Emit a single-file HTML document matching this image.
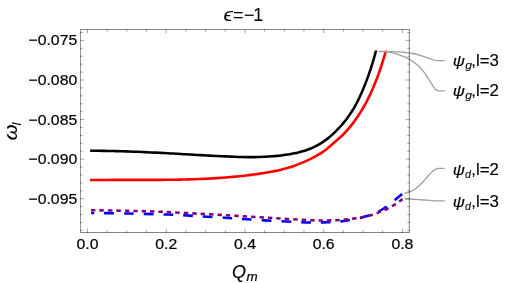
<!DOCTYPE html>
<html><head><meta charset="utf-8"><title>plot</title>
<style>
html,body{margin:0;padding:0;background:#fff;}
body{width:527px;height:283px;overflow:hidden;position:relative;font-family:"Liberation Sans",sans-serif;}
</style></head><body>
<svg width="527" height="283" viewBox="0 0 527 283" style="position:absolute;left:0;top:0">
<rect width="527" height="283" fill="#fff"/>
<defs><clipPath id="cb"><rect x="0" y="50.4" width="527" height="240"/></clipPath><clipPath id="cr"><rect x="0" y="51.0" width="527" height="240"/></clipPath><clipPath id="cp"><rect x="0" y="50.0" width="527" height="1.0"/></clipPath></defs>
<path d="M90.10 150.80 C90.83 150.80 93.00 150.80 94.45 150.80 C95.90 150.81 97.35 150.82 98.80 150.83 C100.25 150.84 101.70 150.85 103.15 150.87 C104.60 150.89 106.05 150.91 107.50 150.93 C108.95 150.96 110.40 150.98 111.85 151.02 C113.30 151.05 114.74 151.08 116.19 151.11 C117.64 151.15 119.09 151.19 120.54 151.23 C121.99 151.27 123.44 151.32 124.89 151.36 C126.34 151.41 127.79 151.46 129.23 151.51 C130.68 151.56 132.13 151.61 133.58 151.67 C135.03 151.73 136.48 151.78 137.93 151.84 C139.37 151.90 140.82 151.96 142.27 152.03 C143.72 152.09 145.17 152.16 146.62 152.22 C148.06 152.29 149.51 152.36 150.96 152.43 C152.41 152.50 153.86 152.57 155.31 152.64 C156.75 152.71 158.20 152.79 159.65 152.86 C161.10 152.94 162.55 153.01 163.99 153.09 C165.44 153.16 166.89 153.24 168.34 153.32 C169.79 153.40 171.23 153.48 172.68 153.56 C174.13 153.64 175.58 153.72 177.03 153.80 C178.47 153.88 179.92 153.96 181.37 154.04 C182.82 154.12 184.26 154.20 185.71 154.29 C187.16 154.37 188.61 154.45 190.06 154.53 C191.50 154.61 192.95 154.69 194.40 154.77 C195.85 154.86 197.29 154.94 198.74 155.02 C200.19 155.10 201.64 155.18 203.09 155.26 C204.53 155.34 205.98 155.41 207.43 155.49 C208.88 155.57 210.32 155.65 211.77 155.72 C213.22 155.80 214.67 155.87 216.11 155.95 C217.56 156.02 219.01 156.10 220.46 156.17 C221.91 156.24 223.35 156.31 224.80 156.38 C226.25 156.45 227.70 156.51 229.14 156.58 C230.59 156.64 232.04 156.71 233.49 156.76 C234.94 156.82 236.38 156.87 237.83 156.92 C239.28 156.96 240.73 157.01 242.17 157.04 C243.62 157.07 245.07 157.10 246.52 157.12 C247.97 157.14 249.41 157.15 250.86 157.14 C252.31 157.14 253.76 157.13 255.21 157.11 C256.66 157.08 258.10 157.05 259.55 157.00 C261.00 156.96 262.45 156.89 263.90 156.82 C265.35 156.75 266.79 156.66 268.24 156.57 C269.69 156.47 271.14 156.37 272.59 156.25 C274.04 156.13 275.49 156.00 276.93 155.86 C278.38 155.72 279.83 155.57 281.27 155.40 C282.72 155.23 284.16 155.05 285.60 154.84 C287.04 154.64 288.48 154.42 289.91 154.17 C291.34 153.93 292.77 153.66 294.19 153.37 C295.61 153.08 297.03 152.77 298.44 152.42 C299.85 152.08 301.25 151.71 302.64 151.30 C304.04 150.90 305.42 150.47 306.79 149.99 C308.16 149.52 309.51 149.01 310.85 148.46 C312.18 147.91 313.50 147.31 314.80 146.68 C316.09 146.04 317.37 145.36 318.62 144.64 C319.88 143.92 321.11 143.16 322.32 142.36 C323.53 141.57 324.72 140.73 325.88 139.87 C327.05 139.01 328.19 138.12 329.31 137.19 C330.43 136.27 331.53 135.32 332.61 134.35 C333.69 133.38 334.74 132.38 335.78 131.36 C336.82 130.34 337.83 129.30 338.83 128.24 C339.82 127.18 340.80 126.10 341.75 125.00 C342.70 123.90 343.63 122.79 344.54 121.65 C345.45 120.52 346.34 119.37 347.20 118.20 C348.07 117.03 348.91 115.85 349.73 114.65 C350.55 113.45 351.34 112.24 352.11 111.01 C352.88 109.79 353.63 108.55 354.36 107.30 C355.08 106.05 355.78 104.79 356.46 103.51 C357.14 102.24 357.79 100.96 358.42 99.66 C359.06 98.37 359.67 97.07 360.27 95.76 C360.87 94.45 361.45 93.13 362.03 91.80 C362.60 90.47 363.16 89.14 363.71 87.79 C364.26 86.45 364.80 85.10 365.33 83.75 C365.86 82.40 366.37 81.04 366.88 79.67 C367.39 78.31 367.89 76.94 368.37 75.56 C368.86 74.19 369.34 72.81 369.81 71.43 C370.28 70.05 370.74 68.67 371.18 67.28 C371.63 65.90 372.07 64.51 372.49 63.12 C372.92 61.73 373.33 60.34 373.73 58.95 C374.14 57.56 374.53 56.17 374.91 54.79 C375.28 53.40 375.73 51.65 376.00 50.62 C376.27 49.60 376.44 48.96 376.53 48.62" fill="none" stroke="#000" stroke-width="2.55" clip-path="url(#cb)"/>
<path d="M90.11 180.10 C90.86 180.09 93.13 180.06 94.64 180.04 C96.15 180.02 97.66 180.01 99.17 179.99 C100.68 179.98 102.19 179.97 103.70 179.96 C105.22 179.95 106.73 179.94 108.24 179.94 C109.75 179.93 111.26 179.93 112.78 179.92 C114.29 179.92 115.80 179.92 117.31 179.92 C118.83 179.91 120.34 179.91 121.85 179.91 C123.36 179.91 124.88 179.91 126.39 179.92 C127.90 179.92 129.42 179.92 130.93 179.92 C132.45 179.92 133.96 179.92 135.47 179.92 C136.99 179.92 138.50 179.92 140.01 179.92 C141.53 179.92 143.04 179.92 144.56 179.92 C146.07 179.92 147.58 179.92 149.10 179.92 C150.61 179.91 152.12 179.91 153.64 179.91 C155.15 179.90 156.67 179.89 158.18 179.88 C159.69 179.88 161.21 179.87 162.72 179.85 C164.24 179.84 165.75 179.83 167.26 179.81 C168.78 179.80 170.29 179.78 171.80 179.76 C173.32 179.74 174.83 179.71 176.34 179.69 C177.86 179.66 179.37 179.63 180.88 179.60 C182.39 179.57 183.91 179.53 185.42 179.50 C186.93 179.46 188.44 179.42 189.96 179.37 C191.47 179.32 192.98 179.28 194.49 179.22 C196.00 179.17 197.51 179.11 199.03 179.05 C200.54 178.99 202.05 178.93 203.56 178.86 C205.07 178.79 206.58 178.71 208.09 178.64 C209.60 178.56 211.11 178.47 212.62 178.38 C214.13 178.30 215.64 178.20 217.15 178.10 C218.65 178.01 220.16 177.90 221.67 177.79 C223.18 177.68 224.69 177.57 226.19 177.45 C227.70 177.32 229.21 177.20 230.72 177.06 C232.22 176.93 233.73 176.79 235.23 176.65 C236.74 176.50 238.24 176.35 239.75 176.19 C241.25 176.03 242.76 175.86 244.26 175.69 C245.77 175.52 247.27 175.34 248.77 175.15 C250.27 174.96 251.78 174.77 253.28 174.57 C254.78 174.37 256.28 174.15 257.77 173.94 C259.27 173.72 260.77 173.49 262.26 173.25 C263.76 173.02 265.25 172.77 266.74 172.51 C268.23 172.26 269.71 171.99 271.20 171.72 C272.68 171.44 274.16 171.16 275.64 170.86 C277.12 170.56 278.60 170.26 280.07 169.92 C281.54 169.58 283.01 169.23 284.47 168.85 C285.93 168.46 287.39 168.04 288.85 167.60 C290.30 167.16 291.75 166.69 293.19 166.19 C294.63 165.69 296.07 165.17 297.49 164.62 C298.91 164.08 300.33 163.51 301.73 162.91 C303.14 162.32 304.53 161.71 305.91 161.08 C307.29 160.45 308.66 159.80 310.01 159.13 C311.36 158.47 312.70 157.79 314.02 157.08 C315.34 156.38 316.65 155.68 317.93 154.92 C319.22 154.17 320.49 153.40 321.74 152.56 C322.98 151.73 324.21 150.84 325.42 149.92 C326.63 149.01 327.82 148.03 329.00 147.05 C330.18 146.08 331.34 145.06 332.50 144.07 C333.66 143.07 334.81 142.07 335.95 141.07 C337.09 140.07 338.23 139.09 339.34 138.08 C340.46 137.06 341.56 136.04 342.63 134.99 C343.70 133.94 344.75 132.86 345.78 131.76 C346.80 130.66 347.81 129.54 348.79 128.40 C349.77 127.25 350.73 126.09 351.67 124.91 C352.60 123.73 353.52 122.52 354.42 121.31 C355.31 120.09 356.19 118.85 357.04 117.60 C357.90 116.35 358.74 115.09 359.55 113.81 C360.37 112.53 361.16 111.24 361.94 109.93 C362.72 108.63 363.48 107.31 364.22 105.99 C364.96 104.67 365.69 103.33 366.39 101.99 C367.10 100.65 367.79 99.30 368.46 97.94 C369.13 96.58 369.78 95.22 370.42 93.85 C371.06 92.48 371.69 91.10 372.30 89.71 C372.91 88.33 373.50 86.94 374.08 85.54 C374.66 84.15 375.23 82.74 375.78 81.34 C376.34 79.93 376.88 78.52 377.41 77.10 C377.93 75.68 378.45 74.26 378.96 72.83 C379.46 71.41 379.95 69.98 380.44 68.54 C380.92 67.11 381.39 65.67 381.86 64.23 C382.32 62.79 382.77 61.35 383.22 59.90 C383.66 58.46 384.10 57.01 384.53 55.56 C384.95 54.10 385.48 52.26 385.79 51.20 C386.09 50.14 386.27 49.53 386.37 49.20" fill="none" stroke="#ffa0a0" stroke-width="2.2" clip-path="url(#cp)"/>
<path d="M90.11 180.10 C90.86 180.09 93.13 180.06 94.64 180.04 C96.15 180.02 97.66 180.01 99.17 179.99 C100.68 179.98 102.19 179.97 103.70 179.96 C105.22 179.95 106.73 179.94 108.24 179.94 C109.75 179.93 111.26 179.93 112.78 179.92 C114.29 179.92 115.80 179.92 117.31 179.92 C118.83 179.91 120.34 179.91 121.85 179.91 C123.36 179.91 124.88 179.91 126.39 179.92 C127.90 179.92 129.42 179.92 130.93 179.92 C132.45 179.92 133.96 179.92 135.47 179.92 C136.99 179.92 138.50 179.92 140.01 179.92 C141.53 179.92 143.04 179.92 144.56 179.92 C146.07 179.92 147.58 179.92 149.10 179.92 C150.61 179.91 152.12 179.91 153.64 179.91 C155.15 179.90 156.67 179.89 158.18 179.88 C159.69 179.88 161.21 179.87 162.72 179.85 C164.24 179.84 165.75 179.83 167.26 179.81 C168.78 179.80 170.29 179.78 171.80 179.76 C173.32 179.74 174.83 179.71 176.34 179.69 C177.86 179.66 179.37 179.63 180.88 179.60 C182.39 179.57 183.91 179.53 185.42 179.50 C186.93 179.46 188.44 179.42 189.96 179.37 C191.47 179.32 192.98 179.28 194.49 179.22 C196.00 179.17 197.51 179.11 199.03 179.05 C200.54 178.99 202.05 178.93 203.56 178.86 C205.07 178.79 206.58 178.71 208.09 178.64 C209.60 178.56 211.11 178.47 212.62 178.38 C214.13 178.30 215.64 178.20 217.15 178.10 C218.65 178.01 220.16 177.90 221.67 177.79 C223.18 177.68 224.69 177.57 226.19 177.45 C227.70 177.32 229.21 177.20 230.72 177.06 C232.22 176.93 233.73 176.79 235.23 176.65 C236.74 176.50 238.24 176.35 239.75 176.19 C241.25 176.03 242.76 175.86 244.26 175.69 C245.77 175.52 247.27 175.34 248.77 175.15 C250.27 174.96 251.78 174.77 253.28 174.57 C254.78 174.37 256.28 174.15 257.77 173.94 C259.27 173.72 260.77 173.49 262.26 173.25 C263.76 173.02 265.25 172.77 266.74 172.51 C268.23 172.26 269.71 171.99 271.20 171.72 C272.68 171.44 274.16 171.16 275.64 170.86 C277.12 170.56 278.60 170.26 280.07 169.92 C281.54 169.58 283.01 169.23 284.47 168.85 C285.93 168.46 287.39 168.04 288.85 167.60 C290.30 167.16 291.75 166.69 293.19 166.19 C294.63 165.69 296.07 165.17 297.49 164.62 C298.91 164.08 300.33 163.51 301.73 162.91 C303.14 162.32 304.53 161.71 305.91 161.08 C307.29 160.45 308.66 159.80 310.01 159.13 C311.36 158.47 312.70 157.79 314.02 157.08 C315.34 156.38 316.65 155.68 317.93 154.92 C319.22 154.17 320.49 153.40 321.74 152.56 C322.98 151.73 324.21 150.84 325.42 149.92 C326.63 149.01 327.82 148.03 329.00 147.05 C330.18 146.08 331.34 145.06 332.50 144.07 C333.66 143.07 334.81 142.07 335.95 141.07 C337.09 140.07 338.23 139.09 339.34 138.08 C340.46 137.06 341.56 136.04 342.63 134.99 C343.70 133.94 344.75 132.86 345.78 131.76 C346.80 130.66 347.81 129.54 348.79 128.40 C349.77 127.25 350.73 126.09 351.67 124.91 C352.60 123.73 353.52 122.52 354.42 121.31 C355.31 120.09 356.19 118.85 357.04 117.60 C357.90 116.35 358.74 115.09 359.55 113.81 C360.37 112.53 361.16 111.24 361.94 109.93 C362.72 108.63 363.48 107.31 364.22 105.99 C364.96 104.67 365.69 103.33 366.39 101.99 C367.10 100.65 367.79 99.30 368.46 97.94 C369.13 96.58 369.78 95.22 370.42 93.85 C371.06 92.48 371.69 91.10 372.30 89.71 C372.91 88.33 373.50 86.94 374.08 85.54 C374.66 84.15 375.23 82.74 375.78 81.34 C376.34 79.93 376.88 78.52 377.41 77.10 C377.93 75.68 378.45 74.26 378.96 72.83 C379.46 71.41 379.95 69.98 380.44 68.54 C380.92 67.11 381.39 65.67 381.86 64.23 C382.32 62.79 382.77 61.35 383.22 59.90 C383.66 58.46 384.10 57.01 384.53 55.56 C384.95 54.10 385.48 52.26 385.79 51.20 C386.09 50.14 386.27 49.53 386.37 49.20" fill="none" stroke="#f00" stroke-width="2.6" clip-path="url(#cr)"/>
<path d="M91.10 212.90 C97.58 213.02 117.13 213.32 130.00 213.60 C142.87 213.88 156.63 214.15 168.30 214.60 C179.97 215.05 190.13 215.75 200.00 216.30 C209.87 216.85 219.73 217.40 227.50 217.90 C235.27 218.40 237.85 218.75 246.60 219.30 C255.35 219.85 270.13 220.67 280.00 221.20 C289.87 221.73 298.10 222.32 305.80 222.50 C313.50 222.68 319.78 222.57 326.20 222.30 C332.62 222.03 337.82 221.87 344.30 220.90 C350.78 219.93 358.78 218.40 365.10 216.50 C371.42 214.60 377.13 212.33 382.20 209.50 C387.27 206.67 392.10 202.17 395.50 199.50 C398.90 196.83 401.42 194.50 402.60 193.50" fill="none" stroke="#00f" stroke-width="2.55" stroke-dasharray="9.7 10.0" stroke-dashoffset="6.5"/>
<path d="M91.10 210.20 C97.58 210.32 118.27 210.63 130.00 210.90 C141.73 211.17 149.83 211.32 161.50 211.80 C173.17 212.28 187.33 213.12 200.00 213.80 C212.67 214.48 225.00 215.17 237.50 215.90 C250.00 216.63 262.58 217.47 275.00 218.20 C287.42 218.93 302.67 219.93 312.00 220.30 C321.33 220.67 324.67 220.62 331.00 220.40 C337.33 220.18 343.68 219.77 350.00 219.00 C356.32 218.23 362.58 217.55 368.90 215.80 C375.22 214.05 382.28 211.27 387.90 208.50 C393.52 205.73 400.15 200.75 402.60 199.20" fill="none" stroke="#800080" stroke-width="2.6" stroke-dasharray="4.4 4.03"/>
<path d="M378.50 51.50 C379.58 51.50 382.75 51.48 385.00 51.50 C387.25 51.52 389.75 51.53 392.00 51.60 C394.25 51.67 396.33 51.75 398.50 51.90 C400.67 52.05 402.60 52.23 405.00 52.50 C407.40 52.77 410.25 52.98 412.90 53.50 C415.55 54.02 418.25 54.80 420.90 55.60 C423.55 56.40 426.68 57.57 428.80 58.30 C430.92 59.03 432.32 59.62 433.60 60.00 C434.88 60.38 435.52 60.44 436.50 60.55 C437.48 60.66 439.00 60.63 439.50 60.65 L444.8 60.65" fill="none" stroke="#a0a0a0" stroke-width="1.3"/>
<path d="M385.80 51.70 C386.50 51.82 388.27 52.05 390.00 52.40 C391.73 52.75 393.70 53.01 396.20 53.80 C398.70 54.59 402.73 56.20 405.00 57.15 C407.27 58.10 408.22 58.58 409.80 59.50 C411.38 60.42 412.92 61.50 414.50 62.70 C416.08 63.90 417.70 65.10 419.30 66.70 C420.90 68.30 422.52 70.18 424.10 72.30 C425.68 74.42 427.35 77.15 428.80 79.40 C430.25 81.65 431.73 84.20 432.80 85.80 C433.87 87.40 434.40 88.20 435.20 89.00 C436.00 89.80 436.80 90.27 437.60 90.60 C438.40 90.92 439.60 90.89 440.00 90.95 L444.8 90.95" fill="none" stroke="#a0a0a0" stroke-width="1.3"/>
<path d="M404.40 193.50 C405.27 193.23 407.68 192.75 409.60 191.90 C411.52 191.05 413.78 189.97 415.90 188.40 C418.02 186.83 420.17 184.68 422.30 182.50 C424.43 180.32 426.85 177.28 428.70 175.30 C430.55 173.32 432.18 171.65 433.40 170.60 C434.62 169.55 435.15 169.36 436.00 169.00 C436.85 168.64 437.67 168.55 438.50 168.45 C439.33 168.35 440.58 168.41 441.00 168.40 L444.8 168.4" fill="none" stroke="#a0a0a0" stroke-width="1.3"/>
<path d="M404.40 198.80 C405.33 198.83 408.08 198.91 410.00 199.00 C411.92 199.09 413.57 199.18 415.90 199.35 C418.23 199.52 421.35 199.79 424.00 200.00 C426.65 200.21 429.47 200.47 431.80 200.60 C434.13 200.73 435.83 200.77 438.00 200.80 C440.17 200.83 443.67 200.80 444.80 200.80" fill="none" stroke="#a0a0a0" stroke-width="1.3"/>
<g fill="none" stroke-width="1" stroke="#000">
<path d="M80.0 29.5 H410.0" stroke-opacity="0.46"/>
<path d="M80.0 232.5 H410.0" stroke-opacity="0.48"/>
<path d="M80.5 30.0 V232.0" stroke-opacity="0.42"/>
<path d="M409.38 30.0 V232.0" stroke-opacity="0.39" stroke-width="1.24"/>
<path d="M87.50 233.0 v-4.3 M87.50 29.0 v4.3 M107.18 233.0 v-2.8 M107.18 29.0 v2.8 M126.86 233.0 v-2.8 M126.86 29.0 v2.8 M146.54 233.0 v-2.8 M146.54 29.0 v2.8 M166.22 233.0 v-4.3 M166.22 29.0 v4.3 M185.90 233.0 v-2.8 M185.90 29.0 v2.8 M205.58 233.0 v-2.8 M205.58 29.0 v2.8 M225.26 233.0 v-2.8 M225.26 29.0 v2.8 M244.94 233.0 v-4.3 M244.94 29.0 v4.3 M264.62 233.0 v-2.8 M264.62 29.0 v2.8 M284.30 233.0 v-2.8 M284.30 29.0 v2.8 M303.98 233.0 v-2.8 M303.98 29.0 v2.8 M323.66 233.0 v-4.3 M323.66 29.0 v4.3 M343.34 233.0 v-2.8 M343.34 29.0 v2.8 M363.02 233.0 v-2.8 M363.02 29.0 v2.8 M382.70 233.0 v-2.8 M382.70 29.0 v2.8 M402.38 233.0 v-4.3 M402.38 29.0 v4.3 M80.0 230.38 h2.8 M410.0 230.38 h-2.8 M80.0 222.47 h2.8 M410.0 222.47 h-2.8 M80.0 214.55 h2.8 M410.0 214.55 h-2.8 M80.0 206.64 h2.8 M410.0 206.64 h-2.8 M80.0 198.72 h4.3 M410.0 198.72 h-4.3 M80.0 190.81 h2.8 M410.0 190.81 h-2.8 M80.0 182.89 h2.8 M410.0 182.89 h-2.8 M80.0 174.98 h2.8 M410.0 174.98 h-2.8 M80.0 167.06 h2.8 M410.0 167.06 h-2.8 M80.0 159.14 h4.3 M410.0 159.14 h-4.3 M80.0 151.23 h2.8 M410.0 151.23 h-2.8 M80.0 143.31 h2.8 M410.0 143.31 h-2.8 M80.0 135.40 h2.8 M410.0 135.40 h-2.8 M80.0 127.48 h2.8 M410.0 127.48 h-2.8 M80.0 119.57 h4.3 M410.0 119.57 h-4.3 M80.0 111.66 h2.8 M410.0 111.66 h-2.8 M80.0 103.74 h2.8 M410.0 103.74 h-2.8 M80.0 95.83 h2.8 M410.0 95.83 h-2.8 M80.0 87.91 h2.8 M410.0 87.91 h-2.8 M80.0 80.00 h4.3 M410.0 80.00 h-4.3 M80.0 72.08 h2.8 M410.0 72.08 h-2.8 M80.0 64.17 h2.8 M410.0 64.17 h-2.8 M80.0 56.25 h2.8 M410.0 56.25 h-2.8 M80.0 48.34 h2.8 M410.0 48.34 h-2.8 M80.0 40.42 h4.3 M410.0 40.42 h-4.3 M80.0 32.50 h2.8 M410.0 32.50 h-2.8" stroke-opacity="0.34"/>
</g>
<g font-family="Liberation Sans, sans-serif" fill="#000" stroke="#000" stroke-width="0.22" style="opacity:0.999">
<text transform="translate(77.20,45.42) scale(1.053,1)" font-size="15" text-anchor="end">−0.075</text>
<text transform="translate(77.20,85.00) scale(1.053,1)" font-size="15" text-anchor="end">−0.080</text>
<text transform="translate(77.20,124.57) scale(1.053,1)" font-size="15" text-anchor="end">−0.085</text>
<text transform="translate(77.20,164.14) scale(1.053,1)" font-size="15" text-anchor="end">−0.090</text>
<text transform="translate(77.20,203.72) scale(1.053,1)" font-size="15" text-anchor="end">−0.095</text>
<text transform="translate(87.50,249.30) scale(1.053,1)" font-size="15" text-anchor="middle">0.0</text>
<text transform="translate(166.22,249.30) scale(1.053,1)" font-size="15" text-anchor="middle">0.2</text>
<text transform="translate(244.94,249.30) scale(1.053,1)" font-size="15" text-anchor="middle">0.4</text>
<text transform="translate(323.66,249.30) scale(1.053,1)" font-size="15" text-anchor="middle">0.6</text>
<text transform="translate(402.38,249.30) scale(1.053,1)" font-size="15" text-anchor="middle">0.8</text>
<g stroke-width="0.05">
<text transform="translate(223.50,21.00) scale(1.18,1)" font-size="18" text-anchor="start"><tspan font-style="italic">ϵ</tspan></text>
<text font-size="18" y="21" x="233.0 244.1 253.3">=−1</text>
</g>
<text transform="translate(232.00,278.00) scale(1.0,1)" font-size="18" text-anchor="start"><tspan font-style="italic">Q</tspan><tspan font-style="italic" font-size="13.4" dy="3" dx="0.5">m</tspan></text>
<g stroke-width="0.1">
<text transform="translate(17,140.3) rotate(-90) scale(1.13,1)" font-size="18" font-style="italic">ω</text>
<text transform="translate(20.9,125.6) rotate(-90)" font-size="13" font-style="italic">l</text>
</g>
<text transform="translate(452.75,65.5) scale(1.11,1)" font-size="15" font-style="italic">ψ</text>
<text transform="translate(465.2,68.5) scale(1.05,1)" font-size="11.5" font-style="italic" stroke-width="0.12">g</text>
<text transform="translate(471.25,65.5) scale(1.02,1)" font-size="16.5" stroke-width="0.15">,l=3</text>
<text transform="translate(452.75,96.0) scale(1.11,1)" font-size="15" font-style="italic">ψ</text>
<text transform="translate(465.2,99.0) scale(1.05,1)" font-size="11.5" font-style="italic" stroke-width="0.12">g</text>
<text transform="translate(471.25,96.0) scale(1.02,1)" font-size="16.5" stroke-width="0.15">,l=2</text>
<text transform="translate(452.75,174.7) scale(1.11,1)" font-size="15" font-style="italic">ψ</text>
<text transform="translate(464.9,177.7) scale(0.93,1)" font-size="11.5" font-style="italic" stroke-width="0.12">d</text>
<text transform="translate(471.25,174.7) scale(1.02,1)" font-size="16.5" stroke-width="0.15">,l=2</text>
<text transform="translate(452.75,206.7) scale(1.11,1)" font-size="15" font-style="italic">ψ</text>
<text transform="translate(464.9,209.7) scale(0.93,1)" font-size="11.5" font-style="italic" stroke-width="0.12">d</text>
<text transform="translate(471.25,206.7) scale(1.02,1)" font-size="16.5" stroke-width="0.15">,l=3</text>
</g>
</svg>
</body></html>
